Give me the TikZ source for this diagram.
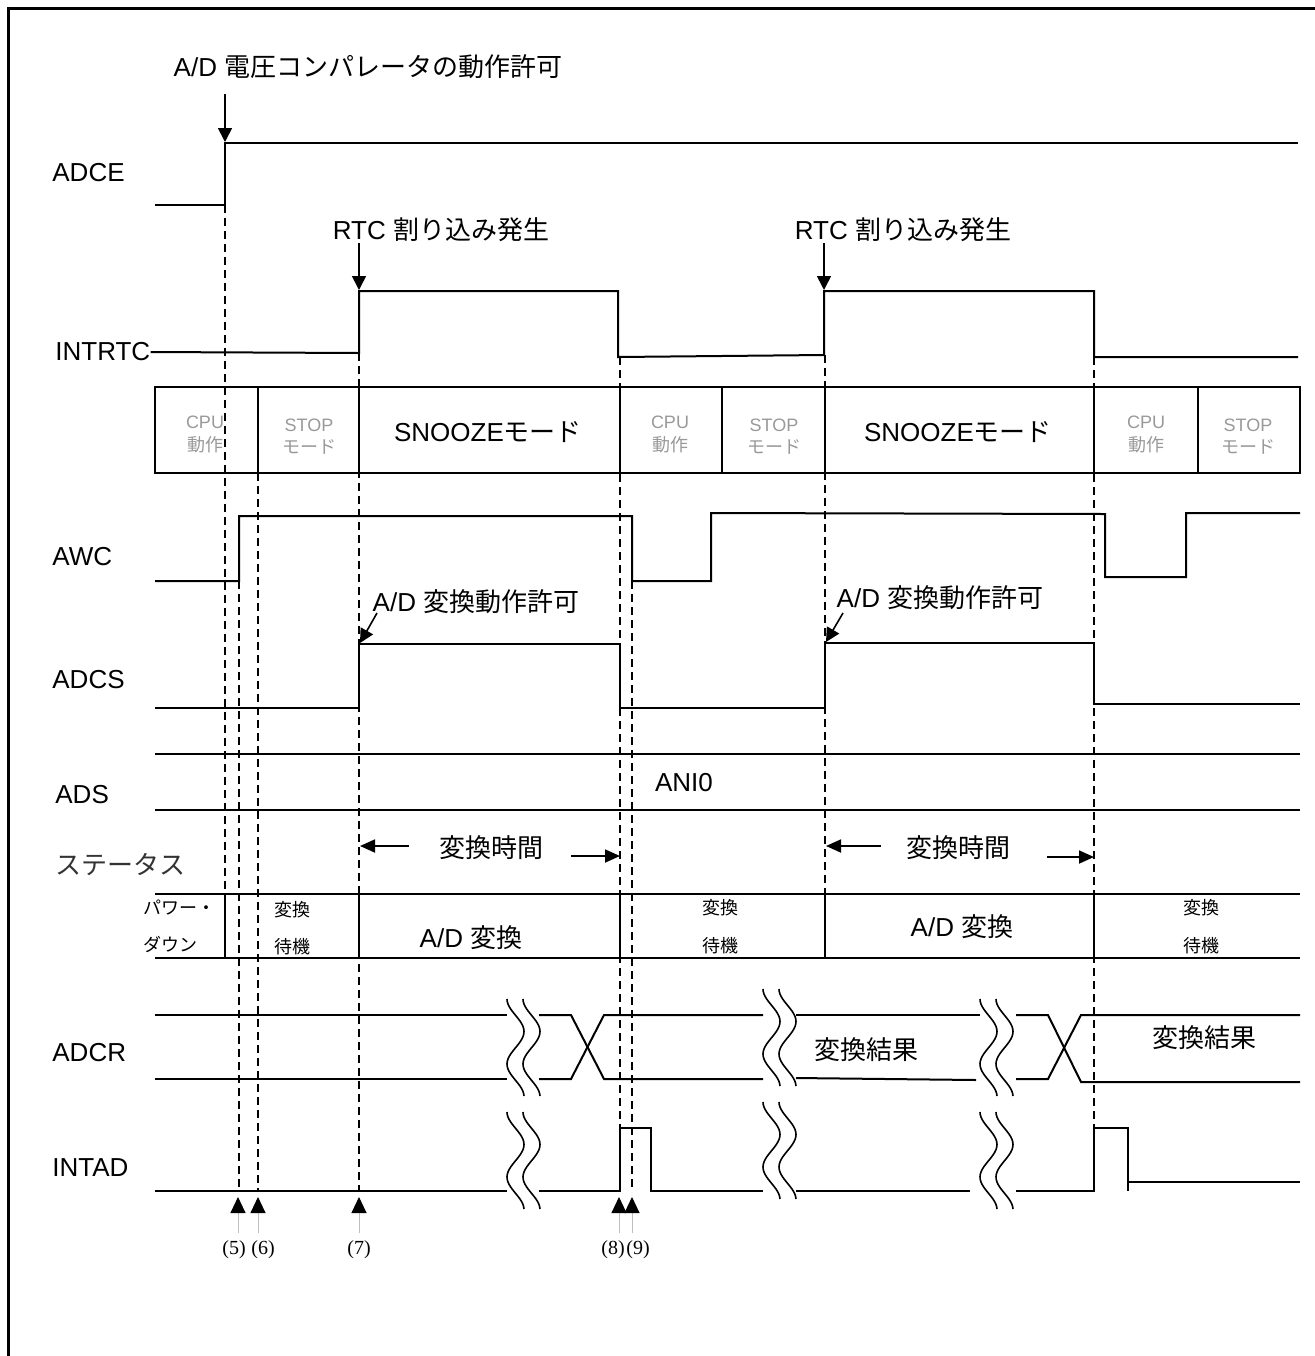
\documentclass[tikz,border=0pt]{standalone}
\usepackage{fontspec}
\setmainfont{Liberation Sans}
\newfontfamily\jpfont{Noto Sans CJK JP}
\newfontfamily\numfont{Liberation Serif}
\usetikzlibrary{positioning, arrows.meta}

\begin{document}
\begin{tikzpicture}
    [
        x=0.5pt, y=-0.5pt, on grid,
        sig_line/.style={line width=1pt, line join=miter},
        guide_line/.style={line width=0.9pt, dash pattern=on 4pt off 2.5pt},
        frame_line/.style={line width=1.5pt},
        note_arrow/.style={line width=0.8pt, -{Triangle[length=7pt, width=7pt]}},
        span_arrow/.style={line width=0.9pt, -{Triangle[length=7.5pt, width=6.5pt]}},
        mark_arrow/.style={draw=black!25, line width=0.5pt, -{Triangle[length=8pt, width=7.5pt, color=black]}},
        sig_label/.style={font=\fontsize{13}{15}\selectfont, anchor=west, inner sep=0pt},
        note_text/.style={font=\fontsize{13}{15}\selectfont, inner sep=0pt},
        mode_text/.style={font=\fontsize{9}{11}\selectfont, text=black!40, inner sep=0pt},
        state_text/.style={font=\fontsize{9}{11}\selectfont\jpfont, inner sep=0pt},
        mark_text/.style={font=\numfont\fontsize{10}{12}\selectfont, inner sep=0pt},
    ]
        \useasboundingbox (0,0) rectangle (1315,1356);
        \draw[frame_line] (8,1356) -- (8,8) -- (1315,8);

        % signal names
        \node[sig_label] (lbl_adce) at (52,173) {ADCE};
        \node[sig_label] (lbl_intrtc) at (55,352) {INTRTC};
        \node[sig_label] (lbl_awc) at (52,557) {AWC};
        \node[sig_label] (lbl_adcs) at (52,680) {ADCS};
        \node[sig_label] (lbl_ads) at (55,795) {ADS};
        \node[sig_label, font=\fontsize{13}{15}\selectfont\jpfont, text=black!80] (lbl_status) at (55,865) {ステータス};
        \node[sig_label] (lbl_adcr) at (52,1053) {ADCR};
        \node[sig_label] (lbl_intad) at (52,1168) {INTAD};

        % notes
        \node[note_text] (note_adce) at (368,67) {A/D \jpfont 電圧コンパレータの動作許可};
        \node[note_text] (note_rtc_a) at (441,230) {RTC \jpfont 割り込み発生};
        \node[note_text] (note_rtc_b) at (903,230) {RTC \jpfont 割り込み発生};
        \node[note_text] (note_adcs_a) at (476,602) {A/D \jpfont 変換動作許可};
        \node[note_text] (note_adcs_b) at (940,598) {A/D \jpfont 変換動作許可};
        \node[note_text, font=\fontsize{13}{15}\selectfont\jpfont] (span_a) at (491,848) {変換時間};
        \node[note_text, font=\fontsize{13}{15}\selectfont\jpfont] (span_b) at (958,848) {変換時間};

        \coordinate (adce_tail) at (225,94);
        \coordinate (adce_tip) at (225,142);
        \coordinate (rtc_a_tail) at (359,243);
        \coordinate (rtc_a_tip) at (359,290);
        \coordinate (rtc_b_tail) at (824,243);
        \coordinate (rtc_b_tip) at (824,290);
        \coordinate (adcs_a_tail) at (377,613);
        \coordinate (adcs_a_tip) at (360,643);
        \coordinate (adcs_b_tail) at (843,613);
        \coordinate (adcs_b_tip) at (826,642);
        \draw[note_arrow] (adce_tail) -- (adce_tip);
        \draw[note_arrow] (rtc_a_tail) -- (rtc_a_tip);
        \draw[note_arrow] (rtc_b_tail) -- (rtc_b_tip);
        \draw[note_arrow] (adcs_a_tail) -- (adcs_a_tip);
        \draw[note_arrow] (adcs_b_tail) -- (adcs_b_tip);

        \coordinate (span_a_l) at (360,846);
        \coordinate (span_a_r) at (620,856);
        \coordinate (span_b_l) at (826,846);
        \coordinate (span_b_r) at (1094,857);
        \draw[span_arrow] (409,846) -- (span_a_l);
        \draw[span_arrow] (571,856) -- (span_a_r);
        \draw[span_arrow] (881,846) -- (span_b_l);
        \draw[span_arrow] (1047,857) -- (span_b_r);

        % waveforms
        \draw[sig_line] (155,205) -- (225,205) -- (225,143) -- (1298,143);
        \draw[sig_line] (lbl_intrtc.east) -- (359,353) -- (359,291) -- (618,291) -- (618,357) -- (824,355) -- (824,291) -- (1094,291) -- (1094,357) -- (1298,357);
        \draw[sig_line] (155,581) -- (239,581) -- (239,516) -- (632,516) -- (632,581) -- (711,581) -- (711,513) -- (1105,514) -- (1105,577) -- (1186,577) -- (1186,513) -- (1300,513);
        \draw[sig_line] (155,708) -- (359,708) -- (359,644) -- (620,644) -- (620,708) -- (825,708) -- (825,643) -- (1094,643) -- (1094,704) -- (1300,704);
        \draw[sig_line] (155,754) -- (1300,754);
        \draw[sig_line] (155,810) -- (1300,810);
        \node[note_text] (ads_val) at (684,783) {ANI0};

        % mode row
        \draw[sig_line] (155,387) rectangle (1300,473);
        \foreach \xd in {258,359,620,722,825,1094,1198}
            \draw[sig_line] (\xd,387) -- (\xd,473);
        \node[mode_text] (mode_cpu_a) at (205,422) {CPU};
        \node[mode_text] (mode_cpu_a2) [below=11.5pt of mode_cpu_a] {\jpfont 動作};
        \node[mode_text] (mode_stop_a) at (309,425) {STOP};
        \node[mode_text] (mode_stop_a2) [below=11pt of mode_stop_a] {\jpfont モード};
        \node[note_text] (mode_snz_a) at (488,432) {SNOOZE\jpfont モード};
        \node[mode_text] (mode_cpu_b) at (670,422) {CPU};
        \node[mode_text] (mode_cpu_b2) [below=11.5pt of mode_cpu_b] {\jpfont 動作};
        \node[mode_text] (mode_stop_b) at (774,425) {STOP};
        \node[mode_text] (mode_stop_b2) [below=11pt of mode_stop_b] {\jpfont モード};
        \node[note_text] (mode_snz_b) at (958,432) {SNOOZE\jpfont モード};
        \node[mode_text] (mode_cpu_c) at (1146,422) {CPU};
        \node[mode_text] (mode_cpu_c2) [below=11.5pt of mode_cpu_c] {\jpfont 動作};
        \node[mode_text] (mode_stop_c) at (1248,425) {STOP};
        \node[mode_text] (mode_stop_c2) [below=11pt of mode_stop_c] {\jpfont モード};

        % status row
        \draw[sig_line] (155,894) -- (1300,894);
        \draw[sig_line] (155,958) -- (1300,958);
        \foreach \xd in {225,359,620,825,1094}
            \draw[sig_line] (\xd,894) -- (\xd,958);
        \node[state_text, anchor=west] (st_pd) at (143,908) {パワー・};
        \node[state_text, anchor=west] (st_pd2) at (143,944) {ダウン};
        \node[state_text] (st_wait_a) at (292,910) {変換};
        \node[state_text] (st_wait_a2) [below=18.5pt of st_wait_a] {待機};
        \node[note_text] (st_conv_a) at (471,938) {A/D \jpfont 変換};
        \node[state_text] (st_wait_b) at (720,908) {変換};
        \node[state_text] (st_wait_b2) [below=19pt of st_wait_b] {待機};
        \node[note_text] (st_conv_b) at (962,927) {A/D \jpfont 変換};
        \node[state_text] (st_wait_c) at (1201,908) {変換};
        \node[state_text] (st_wait_c2) [below=19pt of st_wait_c] {待機};

        % ADCR
        \draw[sig_line] (155,1015) -- (507,1015);
        \draw[sig_line] (155,1079) -- (507,1079);
        \draw[sig_line] (539,1015) -- (571,1015) -- (604,1079) -- (763,1079);
        \draw[sig_line] (539,1079) -- (571,1079) -- (604,1015) -- (763,1015);
        \draw[sig_line] (796,1015) -- (980,1015);
        \draw[sig_line] (796,1078) -- (976,1080);
        \draw[sig_line] (1016,1015) -- (1048,1015) -- (1081,1082) -- (1300,1082);
        \draw[sig_line] (1016,1079) -- (1048,1079) -- (1081,1015) -- (1300,1015);
        \node[note_text, font=\fontsize{13}{15}\selectfont\jpfont] (adcr_val_a) at (866,1050) {変換結果};
        \node[note_text, font=\fontsize{13}{15}\selectfont\jpfont] (adcr_val_b) at (1204,1038) {変換結果};

        % INTAD
        \draw[sig_line] (155,1191) -- (507,1191);
        \draw[sig_line] (539,1191) -- (620,1191) -- (620,1128) -- (651,1128) -- (651,1191) -- (763,1191);
        \draw[sig_line] (796,1191) -- (970,1191);
        \draw[sig_line] (1016,1191) -- (1094,1191) -- (1094,1128) -- (1128,1128) -- (1128,1191);
        \draw[sig_line] (1128,1182) -- (1300,1182);

        % breaks
        \foreach \bx/\by in {507/999, 507/1112, 763/989, 763/1102, 980/999, 980/1112}
        {
            \draw[sig_line, line width=0.8pt] plot[domain=0:97, samples=40, variable=\t] ({\bx+8.5-8.5*cos(5.538*\t)}, {\by+\t});
            \draw[sig_line, line width=0.8pt] plot[domain=0:97, samples=40, variable=\t] ({\bx+16+8.5-8.5*cos(5.538*\t)}, {\by+\t});
        }

        % guides
        \draw[guide_line] (225,205) -- (225,894);
        \draw[guide_line] (239,581) -- (239,1191);
        \draw[guide_line] (258,473) -- (258,1191);
        \draw[guide_line] (359,353) -- (359,1191);
        \draw[guide_line] (620,357) -- (620,1128);
        \draw[guide_line] (632,581) -- (632,1191);
        \draw[guide_line] (825,355) -- (825,894);
        \draw[guide_line] (1094,357) -- (1094,1128);

        % markers
        \foreach \mx/\lx/\lt in {238/234/5, 258/263/6, 359/359/7, 619/613/8, 632/638/9}
        {
            \coordinate (mk_\lt_low) at (\mx,1233);
            \coordinate (mk_\lt_tip) at (\mx,1197);
            \draw[mark_arrow] (mk_\lt_low) -- (mk_\lt_tip);
            \node[mark_text] (mk_\lt) at (\lx,1250) {(\lt)};
        }
\end{tikzpicture}
\end{document}
